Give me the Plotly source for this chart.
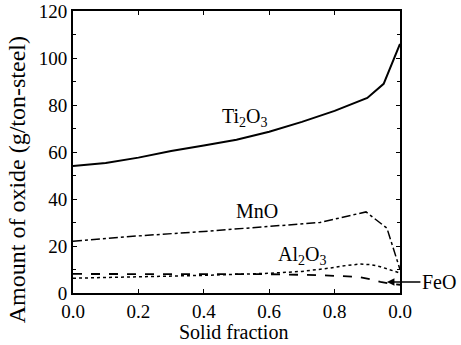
import plotly.graph_objects as go

# Data
ti_x = [0.0, 0.1, 0.2, 0.3, 0.4, 0.5, 0.6, 0.7, 0.8, 0.9, 0.95, 0.98, 1.0]
ti_y = [54.0, 55.3, 57.6, 60.4, 62.8, 65.2, 68.6, 72.8, 77.5, 83.0, 89.0, 99.0, 106.0]

mno_x = [0.0, 0.2, 0.4, 0.6, 0.755, 0.896, 0.96, 1.0]
mno_y = [22.0, 24.3, 26.2, 28.2, 30.0, 34.5, 27.6, 10.0]

al_x = [0.0, 0.2, 0.4, 0.6, 0.7, 0.786, 0.84, 0.878, 0.91, 0.94, 0.97, 1.0]
al_y = [6.3, 6.8, 7.5, 8.4, 9.2, 10.6, 11.8, 12.3, 12.1, 11.2, 10.0, 8.5]

feo_x = [0.0, 0.2, 0.4, 0.5, 0.6, 0.75, 0.87, 0.91, 0.94, 0.97, 1.0]
feo_y = [8.1, 8.0, 8.0, 8.1, 8.0, 7.6, 6.9, 5.8, 4.7, 4.0, 3.5]

x_tick_vals = [0.0, 0.2, 0.4, 0.6, 0.8, 1.0]
x_tick_text = ["0.0", "0.2", "0.4", "0.6", "0.8", "0.0"]
y_tick_vals = [0, 20, 40, 60, 80, 100, 120]

FONT = "Liberation Serif"

fig = go.Figure()
fig.add_trace(go.Scatter(x=ti_x, y=ti_y, mode="lines", name="Ti2O3",
                         line=dict(color="black", width=2, dash="solid")))
fig.add_trace(go.Scatter(x=mno_x, y=mno_y, mode="lines", name="MnO",
                         line=dict(color="black", width=1.5, dash="dashdot")))
fig.add_trace(go.Scatter(x=al_x, y=al_y, mode="lines", name="Al2O3",
                         line=dict(color="black", width=1.5, dash="dot")))
fig.add_trace(go.Scatter(x=feo_x, y=feo_y, mode="lines", name="FeO",
                         line=dict(color="black", width=1.8, dash="dash")))

labels = [
    (0.526, 74.5, "Ti<sub>2</sub>O<sub>3</sub>"),
    (0.563, 34.8, "MnO"),
    (0.70, 16.0, "Al<sub>2</sub>O<sub>3</sub>"),
]
for lx, ly, lt in labels:
    fig.add_annotation(x=lx, y=ly, text=lt, showarrow=False,
                       font=dict(family=FONT, size=20, color="black"))

fig.add_annotation(x=0.96, y=4.7, text="FeO", showarrow=True,
                   arrowhead=2, arrowsize=1, arrowwidth=1.5, arrowcolor="black",
                   ax=52, ay=0, xanchor="center",
                   font=dict(family=FONT, size=20, color="black"))

# axis titles as annotations (placed as in the reference)
fig.add_annotation(xref="paper", yref="paper", x=-0.171, y=0.40,
                   text="Amount of oxide (g/ton-steel)", textangle=-90,
                   showarrow=False, xanchor="center", yanchor="middle",
                   font=dict(family=FONT, size=24, color="black"))
fig.add_annotation(xref="paper", yref="paper", x=0.49, y=-0.137,
                   text="Solid fraction", showarrow=False,
                   xanchor="center", yanchor="middle",
                   font=dict(family=FONT, size=20, color="black"))

fig.update_layout(
    width=461, height=345,
    margin=dict(l=73, r=61, t=11, b=52, autoexpand=False),
    paper_bgcolor="white", plot_bgcolor="white",
    showlegend=False,
    font=dict(family=FONT, size=18, color="black"),
)
fig.update_xaxes(
    range=[0, 1], tickvals=x_tick_vals, ticktext=x_tick_text, automargin=False,
    showgrid=False, zeroline=False, showline=True, linecolor="black", linewidth=2,
    mirror="ticks", ticks="inside", ticklen=4, tickcolor="black",
    tickfont=dict(family=FONT, size=19),
)
fig.update_yaxes(
    range=[0, 120], tickvals=y_tick_vals, automargin=False,
    showgrid=False, zeroline=False, showline=True, linecolor="black", linewidth=2,
    mirror="ticks", ticks="inside", ticklen=4, tickcolor="black",
    minor=dict(dtick=10, ticks="inside", ticklen=3, tickcolor="black"),
    tickfont=dict(family=FONT, size=19),
)

fig.write_html("out.html")
